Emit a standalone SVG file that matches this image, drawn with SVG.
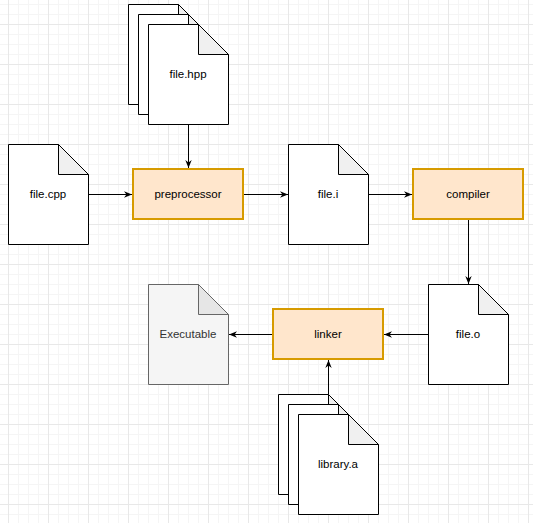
<svg xmlns="http://www.w3.org/2000/svg" width="533" height="523" viewBox="0 0 533 523">
<defs>
<pattern id="grid" x="8" y="24" width="40" height="40" patternUnits="userSpaceOnUse">
<path d="M10.5 0V40M20.5 0V40M30.5 0V40M0 10.5H40M0 20.5H40M0 30.5H40" stroke="#f5f5f5" stroke-width="1" fill="none"/>
<path d="M0.5 0V40M0 0.5H40" stroke="#e8e8e8" stroke-width="1" fill="none"/>
</pattern>
<marker id="arr" viewBox="0 0 10 10" refX="10" refY="5" markerWidth="8" markerHeight="8" markerUnits="userSpaceOnUse" orient="auto">
<path d="M0 1L10 5L0 9L3 5Z" fill="#000"/>
</marker>
<g id="note">
<path d="M0 0H50L80 30V100H0Z" fill="#fff" stroke="#000" stroke-width="1"/>
<path d="M50 0V30H80Z" fill="#f0f0f0" stroke="#000" stroke-width="1" stroke-linejoin="round"/>
</g>
</defs>
<style>
text{font-family:"Liberation Sans",Arial,Helvetica,sans-serif;font-size:11.5px;text-anchor:middle;fill:#000}
.proc{fill:#ffe6cc;stroke:#d79b00;stroke-width:2}
.edge{stroke:#000;stroke-width:1;fill:none;marker-end:url(#arr)}
</style>
<rect width="533" height="523" fill="#fff"/>
<rect width="533" height="523" fill="url(#grid)"/>

<g id="connectors">
<path class="edge" d="M188.5 124V168"/>
<path class="edge" d="M88 194.5H132"/>
<path class="edge" d="M243 194.5H288"/>
<path class="edge" d="M368 194.5H412"/>
<path class="edge" d="M468.5 219V284"/>
<path class="edge" d="M428 334.5H384"/>
<path class="edge" d="M273 334.5H229"/>
<path class="edge" d="M328.5 394V360"/>
</g>

<g id="file-hpp">
<use href="#note" transform="translate(128.5 4.5)"/>
<use href="#note" transform="translate(138.5 14.5)"/>
<use href="#note" transform="translate(148.5 24.5)"/>
<text x="188" y="78">file.hpp</text>
</g>

<g id="file-cpp">
<use href="#note" transform="translate(8.5 144.5)"/>
<text x="48" y="198">file.cpp</text>
</g>

<g id="preprocessor">
<rect class="proc" x="133" y="169" width="110" height="50"/>
<text x="188" y="198">preprocessor</text>
</g>

<g id="file-i">
<use href="#note" transform="translate(288.5 144.5)"/>
<text x="328" y="198">file.i</text>
</g>

<g id="compiler">
<rect class="proc" x="413" y="169" width="110" height="50"/>
<text x="468" y="198">compiler</text>
</g>

<g id="file-o">
<use href="#note" transform="translate(428.5 284.5)"/>
<text x="468" y="338">file.o</text>
</g>

<g id="linker">
<rect class="proc" x="273" y="309" width="110" height="50"/>
<text x="328" y="338">linker</text>
</g>

<g id="executable">
<path d="M148.5 284.5H198.5L228.5 314.5V384.5H148.5Z" fill="#f5f5f5" stroke="#666666" stroke-width="1"/>
<path d="M198.5 284.5V314.5H228.5Z" fill="#e6e6e6" stroke="#666666" stroke-width="1" stroke-linejoin="round"/>
<text x="188" y="338" style="fill:#333333">Executable</text>
</g>

<g id="library-a">
<use href="#note" transform="translate(278.5 394.5)"/>
<use href="#note" transform="translate(288.5 404.5)"/>
<use href="#note" transform="translate(298.5 414.5)"/>
<text x="338" y="468">library.a</text>
</g>
</svg>
